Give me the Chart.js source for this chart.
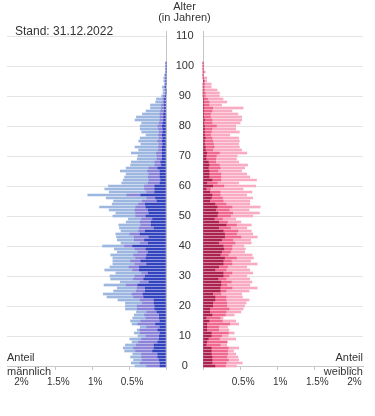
<!DOCTYPE html>
<html><head><meta charset="utf-8">
<script src="https://cdn.jsdelivr.net/npm/chart.js@4/dist/chart.umd.min.js"></script>
<style>
html,body{margin:0;padding:0;background:#fff;}
#wrap{position:relative;width:375px;height:416px;overflow:hidden;font-family:"Liberation Sans",Arial,sans-serif;color:#333;}
canvas{position:absolute;top:0;}
.t{position:absolute;white-space:nowrap;font-size:11px;line-height:11px;}
</style></head><body>
<div id="wrap">
<canvas id="cm" width="172" height="416" style="left:0"></canvas>
<canvas id="cf" width="208" height="416" style="left:167px"></canvas>
<div class="t" style="left:15px;top:25px;font-size:12px;line-height:12px">Stand: 31.12.2022</div>
<div class="t" style="left:134.5px;width:100px;text-align:center;top:1px">Alter</div>
<div class="t" style="left:134.5px;width:100px;text-align:center;top:12px">(in Jahren)</div>
<div class="t" style="left:7px;top:352px">Anteil</div>
<div class="t" style="left:7px;top:366px">männlich</div>
<div class="t" style="right:12px;top:352px;text-align:right">Anteil</div>
<div class="t" style="right:12px;top:366px;text-align:right">weiblich</div>
</div>
<script>
// Alter 0..101
const ages = Array.from({length: 102}, (_, i) => i);

// Anteil in % – männlich (innen dunkel, mitte, aussen hell)
const maleInner = [
.08,.08,.09,.11,.11,.18,.16,.16,.11,.09,
.09,.08,.11,.08,.14,.08,.09,.09,.12,.15,
.15,.16,.16,.30,.31,.28,.28,.38,.23,.30,
.28,.24,.36,.36,.26,.34,.27,.26,.24,.27,
.45,.24,.29,.23,.35,.28,.16,.20,.20,.18,
.27,.23,.24,.27,.28,.12,.14,.34,.15,.15,
.15,.08,.07,.08,.08,.08,.11,.06,.07,.05,
.05,.05,.05,.05,.04,.05,.04,.05,.04,.04,
.05,.04,.03,.03,.03,.02,.02,.02,.02,.02,
.01,0,0,.01,0,0,0,0,0,0,0,0];
const maleMiddle = [
.18,.27,.23,.22,.22,.23,.28,.24,.26,.24,
.18,.27,.24,.18,.24,.26,.18,.20,.14,.24,
.24,.16,.19,.14,.15,.12,.11,.16,.12,.14,
.14,.09,.09,.14,.16,.14,.14,.18,.14,.15,
.11,.11,.14,.20,.14,.09,.20,.14,.15,.15,
.14,.18,.18,.14,.09,.20,.12,.19,.11,.14,
.14,.16,.16,.16,.15,.17,.12,.09,.08,.07,
.07,.08,.05,.05,.05,.06,.05,.05,.05,.06,
.06,.05,.05,.05,.05,.05,.04,.04,.02,.02,
.02,.01,.01,.01,.01,.01,.01,.01,0,0,0,0];
const maleOuter = [
.16,.12,.12,.15,.12,.15,.14,.15,.09,.16,
.11,.08,.04,.09,.08,.14,.18,.14,.14,.16,
.16,.23,.30,.36,.39,.31,.27,.30,.27,.31,
.34,.35,.38,.26,.30,.24,.31,.31,.28,.28,
.30,.26,.23,.24,.19,.24,.27,.30,.19,.18,
.31,.27,.35,.49,.36,.39,.55,.53,.51,.54,
.49,.36,.35,.32,.31,.37,.31,.33,.32,.27,
.26,.34,.27,.32,.25,.26,.26,.17,.24,.25,
.24,.24,.34,.32,.24,.20,.15,.15,.10,.09,
.03,.03,.03,.03,.01,.02,.02,.01,0,0,0,0];

// Anteil in % – weiblich (innen dunkel, mitte, aussen hell)
const femaleInner = [
.16,.12,.12,.12,.11,.11,.11,.04,.05,.07,
.11,.11,.05,.05,.05,.08,.04,.12,.09,.09,
.13,.13,.16,.16,.13,.23,.23,.24,.24,.20,
.27,.27,.16,.21,.27,.27,.29,.23,.25,.28,
.27,.21,.25,.29,.29,.27,.21,.31,.21,.15,
.19,.20,.17,.19,.16,.09,.11,.12,.09,.04,
.13,.05,.12,.08,.08,.08,.07,.08,.07,.04,
.04,.05,.03,.03,.02,.02,.03,.02,.02,.02,
.02,.01,.02,.01,.01,.01,.01,.01,.01,.01,
0,0,0,0,0,.01,0,0,0,0,0,0];
const femaleMiddle = [
.14,.19,.22,.20,.22,.22,.23,.19,.27,.15,
.14,.23,.16,.16,.31,.18,.19,.18,.22,.26,
.19,.19,.15,.15,.11,.08,.16,.08,.14,.11,
.08,.12,.15,.12,.12,.11,.16,.11,.12,.11,
.12,.22,.15,.22,.16,.20,.16,.14,.12,.11,
.18,.20,.18,.20,.15,.18,.15,.11,.14,.06,
.15,.14,.12,.16,.16,.12,.16,.14,.10,.13,
.14,.17,.10,.12,.12,.11,.09,.08,.09,.10,
.16,.11,.10,.09,.09,.11,.12,.07,.07,.05,
.03,.03,.02,.02,.02,.01,.01,0,.01,0,0,0];
const femaleOuter = [
.15,.22,.14,.15,.11,.08,.14,.09,.01,.22,
.09,.08,.14,.12,.12,.18,.04,.12,.20,.19,
.24,.26,.31,.22,.28,.31,.34,.31,.28,.32,
.24,.28,.32,.26,.34,.26,.23,.32,.19,.18,
.16,.22,.24,.22,.22,.18,.22,.20,.18,.18,
.30,.36,.27,.38,.32,.36,.41,.36,.43,.44,
.43,.29,.48,.39,.35,.32,.33,.38,.31,.28,
.28,.37,.39,.34,.34,.36,.36,.26,.38,.32,
.26,.38,.40,.42,.37,.27,.41,.17,.24,.21,
.19,.19,.17,.09,.09,.03,.04,.01,.02,.01,.01,.01];

const xTickValues = [0.5, 1, 1.5, 2];
const X_MAX = 2.155;
const Y_MAX = 111.67;

const maleColors = ['#3344be', '#8c84d8', '#9db7e0'];
const femaleColors = ['#ad2350', '#ef6890', '#f9abc3'];

Chart.defaults.font.family = '"Liberation Sans", Arial, sans-serif';
Chart.defaults.color = '#333';

function ds(label, data, color) {
  return {label, data, backgroundColor: color, borderWidth: 0, barThickness: 2, stack: 's', clip: false};
}
function pct(v) {
  return xTickValues.includes(v) ? String(v) + '%' : '';
}

function makeChart(id, datasets, left) {
  return new Chart(document.getElementById(id), {
    type: 'bar',
    data: {labels: ages, datasets},
    options: {
      indexAxis: 'y',
      responsive: false,
      animation: false,
      devicePixelRatio: 1,
      events: [],
      layout: {padding: left ? {left: 7, right: 0, top: 31, bottom: 0} : {left: 0, right: 12, top: 31, bottom: 0}},
      plugins: {legend: {display: false}, tooltip: {enabled: false}},
      scales: {
        x: {
          type: 'linear', min: 0, max: X_MAX, reverse: left, stacked: true, offset: false,
          grid: {drawOnChartArea: false, drawTicks: true, tickLength: 4, color: '#c8c8c8', offset: false},
          border: {display: true, color: '#c8c8c8'},
          ticks: {stepSize: 0.5, includeBounds: false, padding: 6, labelOffset: 3, font: {size: 10}, color: '#333', callback: pct, maxRotation: 0, autoSkip: false},
          afterFit: s => { s.height = 50; }
        },
        y: {
          type: 'linear', min: 0, max: Y_MAX, stacked: true, offset: false, position: left ? 'right' : 'left',
          grid: {color: '#e4e4e4', drawTicks: false, offset: false},
          border: {display: true, color: '#c4c4c4'},
          ticks: {display: !left, stepSize: 10, includeBounds: false, crossAlign: 'center', padding: 9, font: {size: 11}, color: '#333'},
          afterFit: s => { s.width = left ? 0 : 36; }
        }
      }
    }
  });
}

makeChart('cm', [
  ds('männlich innen', maleInner, maleColors[0]),
  ds('männlich mitte', maleMiddle, maleColors[1]),
  ds('männlich aussen', maleOuter, maleColors[2])
], true);
makeChart('cf', [
  ds('weiblich innen', femaleInner, femaleColors[0]),
  ds('weiblich mitte', femaleMiddle, femaleColors[1]),
  ds('weiblich aussen', femaleOuter, femaleColors[2])
], false);
</script>
</body></html>
